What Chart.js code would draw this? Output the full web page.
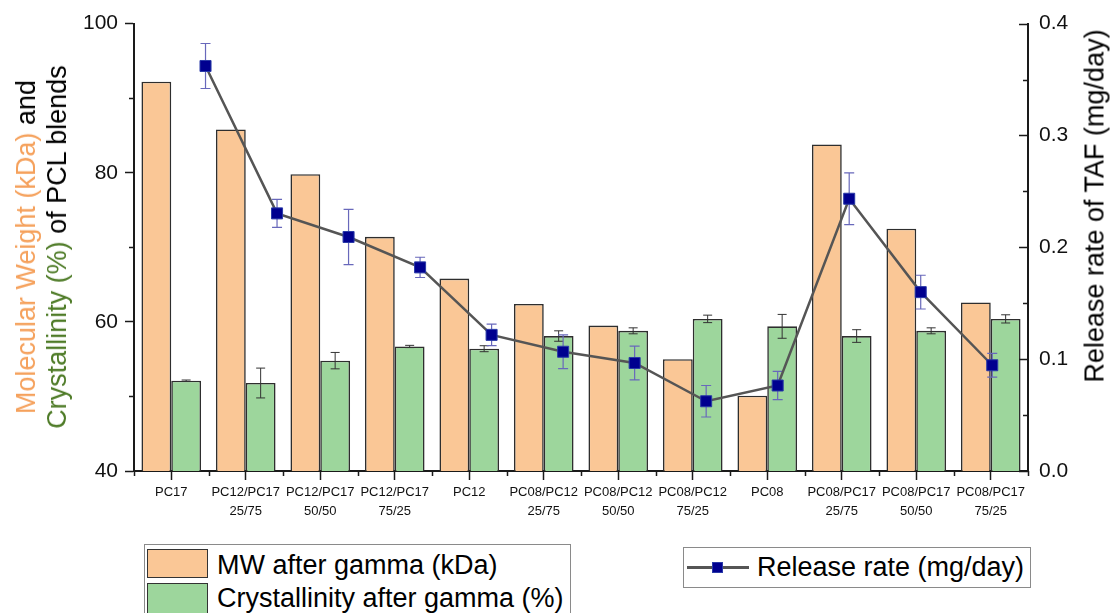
<!DOCTYPE html>
<html>
<head>
<meta charset="utf-8">
<title>PCL blends after gamma irradiation</title>
<script src="https://cdn.jsdelivr.net/npm/chart.js@4.4.1/dist/chart.umd.min.js"></script>
<style>
  html, body { margin: 0; padding: 0; background: #fff; }
  #wrap {
    position: relative; width: 1110px; height: 613px; overflow: hidden;
    font-family: "Liberation Sans", Arial, sans-serif; color: #000;
  }
  #bars, #rate { position: absolute; left: 0; top: 0; }
  #rate { pointer-events: none; }
  .vtitle {
    position: absolute; white-space: nowrap; font-size: 27px; line-height: 31px;
    transform: translate(-50%, -50%) rotate(-90deg); text-align: center;
  }
  .mw { color: #F5A15C; }
  .cr { color: #4E7B27; }
  .legend {
    position: absolute; border: 1px solid #8a8a8a; background: #fff; box-sizing: border-box;
  }
  .swatch { position: absolute; box-sizing: border-box; border: 1.5px solid #333; }
  .ltext {
    position: absolute; white-space: nowrap; font-size: 27px; height: 32px; line-height: 32px;
  }
</style>
</head>
<body>
<div id="wrap">
  <canvas id="bars" width="1110" height="613"></canvas>
  <canvas id="rate" width="1110" height="613"></canvas>

  <div class="vtitle" style="left:42px; top:247px;">
    <div><span class="mw">Molecular Weight (kDa)</span> and</div>
    <div><span class="cr">Crystallinity (%)</span> of PCL blends</div>
  </div>
  <div class="vtitle" style="left:1095px; top:206px;">Release rate of TAF (mg/day)</div>

  <div class="legend" style="left:144px; top:544px; width:427px; height:90px;">
    <div class="swatch" id="swMw" style="left:2px; top:4px; width:61px; height:29px;"></div>
    <div class="swatch" id="swCr" style="left:2px; top:38px; width:61px; height:31px;"></div>
    <div class="ltext" style="left:72px; top:4px;">MW after gamma (kDa)</div>
    <div class="ltext" style="left:72px; top:37px;">Crystallinity after gamma (%)</div>
  </div>

  <div class="legend" style="left:683px; top:547px; width:348px; height:41px;">
    <div style="position:absolute; left:3px; top:18px; width:62px; height:2.5px; background:#555;"></div>
    <div style="position:absolute; left:28px; top:14px; width:11px; height:11px; box-sizing:border-box; border:1px solid #2a3aa8; background:#00008F;"></div>
    <div class="ltext" style="left:73px; top:3px;">Release rate (mg/day)</div>
  </div>
</div>

<script>
// ---- data ----
const categories = [
  'PC17',
  ['PC12/PC17', '25/75'],
  ['PC12/PC17', '50/50'],
  ['PC12/PC17', '75/25'],
  'PC12',
  ['PC08/PC12', '25/75'],
  ['PC08/PC12', '50/50'],
  ['PC08/PC12', '75/25'],
  'PC08',
  ['PC08/PC17', '25/75'],
  ['PC08/PC17', '50/50'],
  ['PC08/PC17', '75/25']
];

// molecular weight after gamma (kDa)
const mwAfterGamma = [92.2, 85.8, 79.8, 71.4, 65.8, 62.4, 59.5, 55.0, 50.1, 83.8, 72.5, 62.6];

// crystallinity after gamma (%) and its error
const crystAfterGamma = [52.1, 51.8, 54.8, 56.7, 56.4, 58.1, 58.8, 60.4, 59.4, 58.1, 58.8, 60.4];
const crystError      = [0.1, 2.0, 1.1, 0.15, 0.4, 0.7, 0.4, 0.5, 1.6, 0.85, 0.4, 0.55];

// TAF release rate (mg/day) and its error
const releaseRate  = [0.360, 0.229, 0.208, 0.181, 0.121, 0.106, 0.096, 0.062, 0.076, 0.242, 0.159, 0.094];
const releaseError = [0.020, 0.0125, 0.0245, 0.009, 0.0095, 0.015, 0.015, 0.014, 0.0125, 0.023, 0.015, 0.0105];
// slot of each release point on the line's own x axis
const releaseSlots = [0, 1, 2, 3, 4, 5, 6, 7, 8, 9, 10, 11];

// axis ticks
const leftTicks       = [40, 60, 80, 100];
const leftMinorTicks  = [50, 70, 90];
const rightTicks      = [0, 0.1, 0.2, 0.3, 0.4];
const rightMinorTicks = [0.05, 0.15, 0.25, 0.35];

// ---- styles ----
const ORANGE = '#FAC796';
const GREEN = '#9DD69C';
const BAR_EDGE = '#2e2e2e';
const AXIS = '#1a1a1a';
const LINE_GREY = '#555555';
const MARKER_BLUE = '#00008F';
const MARKER_EDGE = '#2a3aa8';
const RATE_ERR = '#6868bb';
const CRYST_ERR = '#333333';

// plot frame shared by both layers (px)
const FRAME = { left: 134, right: 82, top: 21, bottom: 142 };

document.getElementById('swMw').style.background = ORANGE;
document.getElementById('swCr').style.background = GREEN;

Chart.defaults.font.family = '"Liberation Sans", Arial, sans-serif';
Chart.defaults.color = '#000';

function drawErrorBar(ctx, x, yTop, yBottom, cap) {
  ctx.beginPath();
  ctx.moveTo(x, yTop); ctx.lineTo(x, yBottom);
  ctx.moveTo(x - cap / 2, yTop); ctx.lineTo(x + cap / 2, yTop);
  ctx.moveTo(x - cap / 2, yBottom); ctx.lineTo(x + cap / 2, yBottom);
  ctx.stroke();
}

// crystallinity error bars, drawn right after the green bars
const crystErrorBars = {
  id: 'crystErrorBars',
  afterDatasetDraw(chart, args) {
    if (args.index !== 1) return;
    const { ctx } = chart;
    const y = chart.scales.y;
    ctx.save();
    ctx.strokeStyle = CRYST_ERR;
    ctx.lineWidth = 1;
    args.meta.data.forEach((bar, i) => {
      const v = crystAfterGamma[i], e = crystError[i];
      drawErrorBar(ctx, bar.x, y.getPixelForValue(v + e), y.getPixelForValue(v - e), 9);
    });
    ctx.restore();
  }
};

// release-rate error bars, drawn under the line and its markers
const rateErrorBars = {
  id: 'rateErrorBars',
  beforeDatasetDraw(chart, args) {
    const { ctx } = chart;
    const y2 = chart.scales.y2;
    ctx.save();
    ctx.strokeStyle = RATE_ERR;
    ctx.lineWidth = 1.2;
    args.meta.data.forEach((pt, i) => {
      const v = releaseRate[i], e = releaseError[i];
      drawErrorBar(ctx, pt.x, y2.getPixelForValue(v + e), y2.getPixelForValue(v - e), 10);
    });
    ctx.restore();
  }
};

// minor ticks on all axes and inward ticks on the right axis
const tickMarks = {
  id: 'tickMarks',
  afterDraw(chart) {
    const { ctx, chartArea } = chart;
    const { x, y, y2 } = chart.scales;
    ctx.save();
    ctx.strokeStyle = AXIS;
    ctx.lineWidth = 1.5;
    ctx.beginPath();
    for (let i = 0; i <= categories.length; i++) {
      const px = Math.round(x.getPixelForValue(i - 0.5)) + 0.5;
      ctx.moveTo(px, chartArea.bottom); ctx.lineTo(px, chartArea.bottom + 5);
    }
    leftMinorTicks.forEach(v => {
      const py = Math.round(y.getPixelForValue(v)) + 0.5;
      ctx.moveTo(chartArea.left, py); ctx.lineTo(chartArea.left - 5, py);
    });
    rightTicks.forEach(v => {
      const py = Math.round(y2.getPixelForValue(v)) + 0.5;
      ctx.moveTo(chartArea.right, py); ctx.lineTo(chartArea.right - 9, py);
    });
    rightMinorTicks.forEach(v => {
      const py = Math.round(y2.getPixelForValue(v)) + 0.5;
      ctx.moveTo(chartArea.right, py); ctx.lineTo(chartArea.right - 5, py);
    });
    ctx.stroke();
    ctx.restore();
  }
};

// ---- layer 1: grouped bars and all visible axes ----
new Chart(document.getElementById('bars'), {
  type: 'bar',
  data: {
    labels: categories,
    datasets: [
      {
        label: 'MW after gamma (kDa)',
        data: mwAfterGamma,
        backgroundColor: ORANGE,
        borderColor: BAR_EDGE,
        borderWidth: 1.6,
        borderSkipped: 'start'
      },
      {
        label: 'Crystallinity after gamma (%)',
        data: crystAfterGamma,
        backgroundColor: GREEN,
        borderColor: BAR_EDGE,
        borderWidth: 1.6,
        borderSkipped: 'start'
      }
    ]
  },
  options: {
    responsive: false,
    animation: false,
    devicePixelRatio: 1,
    datasets: { bar: { categoryPercentage: 0.8, barPercentage: 1.0 } },
    layout: { padding: { top: FRAME.top, left: 0, right: 0, bottom: 0 } },
    plugins: { legend: { display: false }, tooltip: { enabled: false } },
    scales: {
      x: {
        type: 'category',
        position: 'bottom',
        offset: true,
        grid: { offset: false, drawOnChartArea: false, tickLength: 9, tickWidth: 1.5, tickColor: AXIS },
        border: { display: true, color: AXIS, width: 2 },
        ticks: { autoSkip: false, maxRotation: 0, padding: 3, color: '#111', font: { size: 13, lineHeight: '19px' } },
        afterFit(s) { s.height = FRAME.bottom; }
      },
      y: {
        position: 'left',
        min: 40, max: 100,
        beginAtZero: false,
        afterBuildTicks(s) { s.ticks = leftTicks.map(v => ({ value: v })); },
        grid: { drawOnChartArea: false, tickLength: 9, tickWidth: 1.5, tickColor: AXIS },
        border: { display: true, color: AXIS, width: 2 },
        ticks: { padding: 7, color: '#111', font: { size: 21 } },
        afterFit(s) { s.width = FRAME.left; }
      },
      y2: {
        position: 'right',
        min: 0, max: 0.4,
        afterBuildTicks(s) { s.ticks = rightTicks.map(v => ({ value: v })); },
        grid: { drawOnChartArea: false, drawTicks: false },
        border: { display: true, color: AXIS, width: 2 },
        ticks: { padding: 11, color: '#111', font: { size: 21 }, callback: v => Number(v).toFixed(1) },
        afterFit(s) { s.width = FRAME.right; }
      }
    }
  },
  plugins: [crystErrorBars, tickMarks]
});

// ---- layer 2: release-rate line on the same plot frame ----
new Chart(document.getElementById('rate'), {
  type: 'line',
  data: {
    datasets: [
      {
        label: 'Release rate (mg/day)',
        data: releaseRate.map((v, i) => ({ x: releaseSlots[i], y: v })),
        xAxisID: 'x2', yAxisID: 'y2',
        borderColor: LINE_GREY,
        borderWidth: 2.5,
        tension: 0,
        pointStyle: 'rect',
        pointRadius: 7.8,
        pointBackgroundColor: MARKER_BLUE,
        pointBorderColor: MARKER_EDGE,
        pointBorderWidth: 1
      }
    ]
  },
  options: {
    responsive: false,
    animation: false,
    devicePixelRatio: 1,
    layout: { padding: { left: FRAME.left, right: FRAME.right, top: FRAME.top, bottom: FRAME.bottom } },
    plugins: { legend: { display: false }, tooltip: { enabled: false } },
    scales: {
      x2: { type: 'linear', axis: 'x', display: false, min: -1, max: 11.5 },
      y2: { type: 'linear', axis: 'y', display: false, min: 0, max: 0.4 }
    }
  },
  plugins: [rateErrorBars]
});
</script>
</body>
</html>
